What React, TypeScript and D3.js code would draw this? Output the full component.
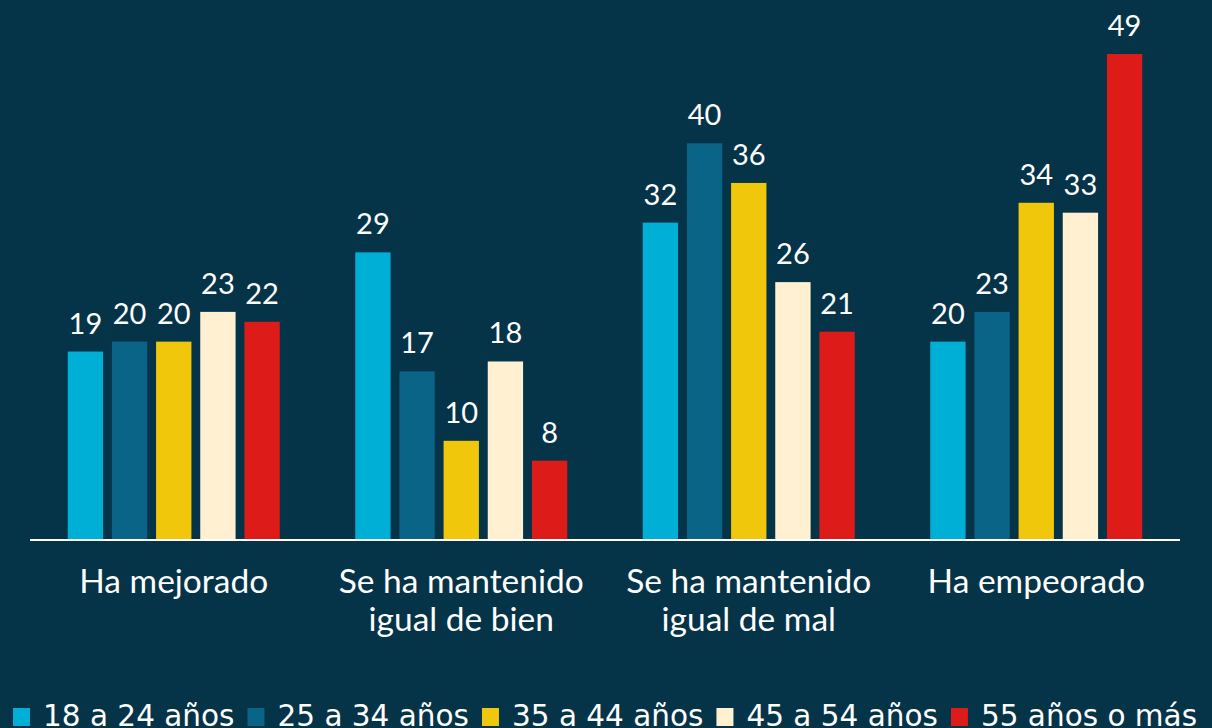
import React, { useEffect, useRef } from "react";
import * as d3 from "d3";

const categories = [["Ha mejorado"], ["Se ha mantenido", "igual de bien"], ["Se ha mantenido", "igual de mal"], ["Ha empeorado"]];
const series = ["18 a 24 años", "25 a 34 años", "35 a 44 años", "45 a 54 años", "55 años o más"];
const colors = ["#00afd6", "#0a6487", "#f0c70a", "#fff0d2", "#dd1c1a"];
const values = [
  [19, 29, 32, 20],
  [20, 17, 40, 23],
  [20, 10, 36, 34],
  [23, 18, 26, 33],
  [22, 8, 21, 49],
];

const W = 1212;
const H = 728;
const BG = "#053347";
const LABEL_FONT = "Lato, 'Open Sans', sans-serif";
const LEGEND_FONT = "'DejaVu Sans', Verdana, sans-serif";

export default function App() {
  const legendRef = useRef<SVGGElement>(null);

  const x0 = d3.scaleBand<number>().domain(d3.range(categories.length)).range([30, 1180]).paddingInner(0.2626).paddingOuter(0.1313);
  const x1 = d3.scaleBand<number>().domain(d3.range(series.length)).range([0, x0.bandwidth()]).paddingInner(0.2).paddingOuter(0);
  const y = d3.scaleLinear().domain([0, 49]).range([540, 54]);

  useEffect(() => {
    const g = d3.select(legendRef.current);
    g.selectAll("*").remove();
    let cx = 13;
    series.forEach((s, i) => {
      g.append("rect").attr("x", cx).attr("y", 708).attr("width", 17).attr("height", 18).attr("fill", colors[i]);
      const t = g.append("text").attr("x", cx + 30).attr("y", 726).attr("fill", "#ffffff")
        .attr("font-family", LEGEND_FONT).attr("font-size", 29.5).text(s);
      const w = (t.node() as SVGTextElement).getComputedTextLength();
      cx = cx + 30 + w + 13;
    });
  }, []);

  return (
    <svg width={W} height={H} style={{ position: "absolute", left: 0, top: 0, display: "block" }}>
      <rect x={0} y={0} width={W} height={H} fill={BG} />
      {categories.map((cat, ci) => (
        <g key={ci} transform={`translate(${x0(ci)},0)`}>
          {series.map((s, si) => {
            const v = values[si][ci];
            const bx = x1(si)!;
            return (
              <g key={si}>
                <rect x={bx} y={y(v)} width={x1.bandwidth()} height={y(0) - y(v)} fill={colors[si]} />
                <text x={bx + x1.bandwidth() / 2} y={y(v) - 18} textAnchor="middle" fill="#ffffff"
                  fontFamily={LABEL_FONT} fontSize={29}>{v}</text>
              </g>
            );
          })}
          {cat.map((line, li) => (
            <text key={li} x={x0.bandwidth() / 2} y={593 + li * 38} textAnchor="middle" fill="#ffffff"
              fontFamily={LABEL_FONT} fontSize={33.5}>{line}</text>
          ))}
        </g>
      ))}
      <line x1={30} x2={1180} y1={540} y2={540} stroke="#ffffff" strokeWidth={2} />
      <g ref={legendRef} />
    </svg>
  );
}
